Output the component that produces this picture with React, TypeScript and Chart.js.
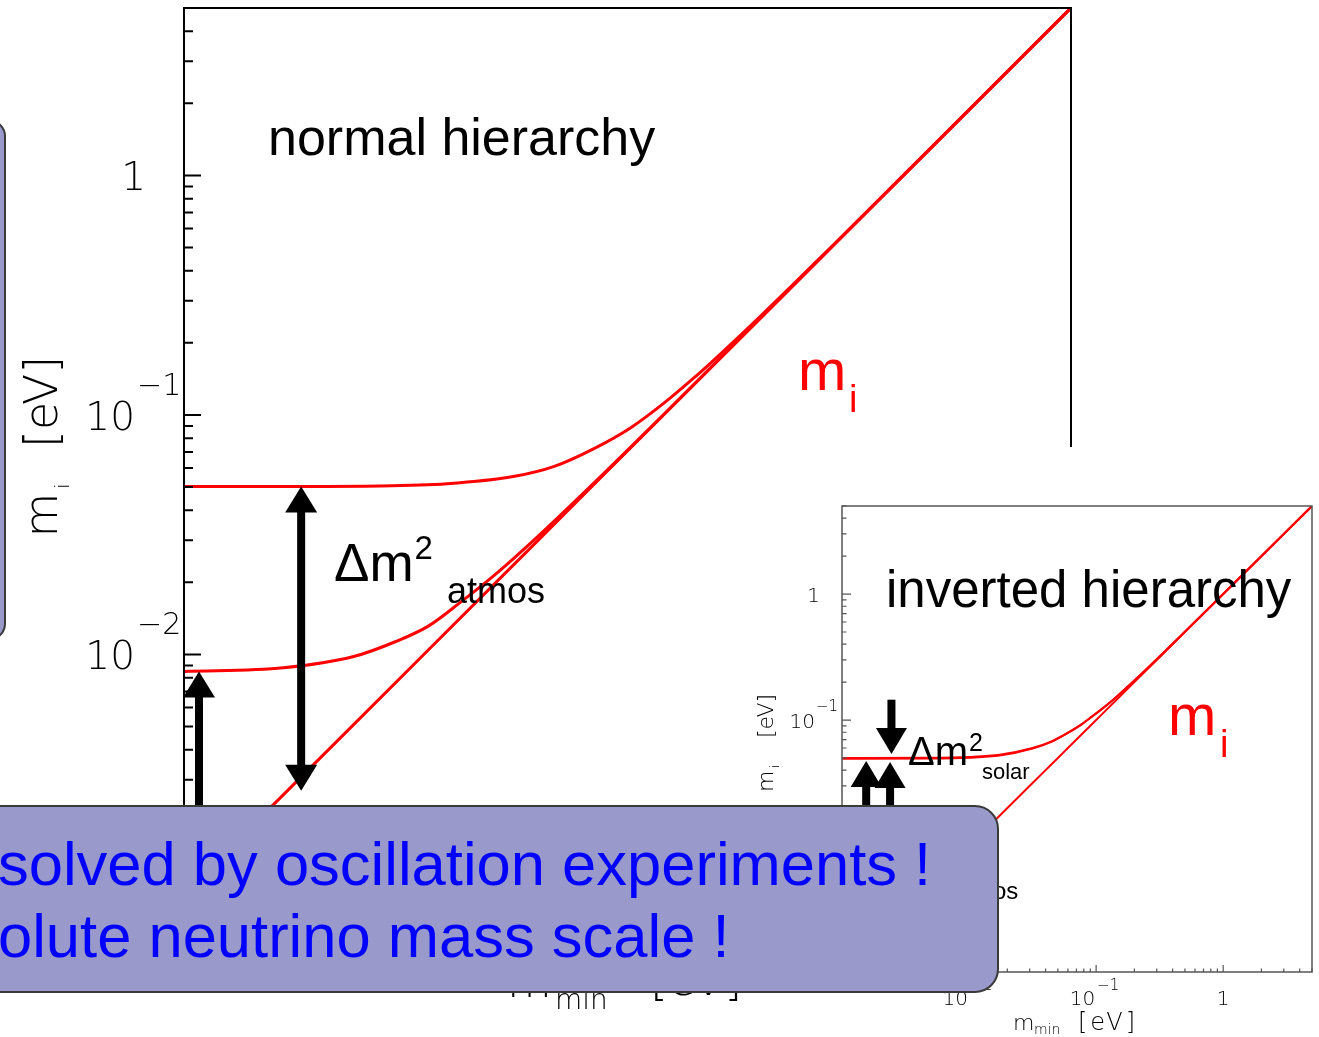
import React, { useEffect, useRef } from "react";
import { Chart, registerables } from "chart.js";

Chart.register(...registerables);

// ---------------- data: normal hierarchy (main panel) ----------------
const nhLightestMin = [0.001, 0.002, 0.005, 0.01, 0.02, 0.05, 0.1, 0.2, 0.5, 1, 2, 5];
const nhLightest = [0.001, 0.002, 0.005, 0.01, 0.02, 0.05, 0.1, 0.2, 0.5, 1, 2, 5];

const nhMiddleMin = [0.001, 0.0026, 0.0051, 0.0076, 0.0104, 0.0142, 0.02, 0.03, 0.05, 0.1, 1, 5];
const nhMiddle = [0.0085, 0.0088, 0.0098, 0.0113, 0.0131, 0.0165, 0.0217, 0.0312, 0.0508, 0.1004, 1.0, 5.0];

const nhHeaviestMin = [0.001, 0.003, 0.0066, 0.0125, 0.0236, 0.035, 0.051, 0.073, 0.1, 0.133, 0.162, 0.25, 0.5, 1, 5];
const nhHeaviest = [0.0503, 0.0503, 0.0505, 0.0516, 0.0553, 0.061, 0.0722, 0.0885, 0.1117, 0.142, 0.1695, 0.255, 0.5025, 1.001, 5.0];

// ---------------- data: inverted hierarchy (inset) ----------------
const ihMin = [0.001, 0.005, 0.01, 0.0174, 0.0316, 0.045, 0.0582, 0.075, 0.093, 0.115, 0.1435, 0.2, 0.3, 1, 5];
const ihUpperA = [0.05, 0.0502, 0.051, 0.053, 0.06, 0.068, 0.078, 0.091, 0.107, 0.126, 0.152, 0.206, 0.304, 1.001, 5.0];
const ihUpperB = [0.0493, 0.0495, 0.0503, 0.0523, 0.0594, 0.0675, 0.0775, 0.0906, 0.1066, 0.1257, 0.1518, 0.2058, 0.3039, 1.001, 5.0];
const ihLightest = [0.001, 0.005, 0.01, 0.0174, 0.0316, 0.045, 0.0582, 0.075, 0.093, 0.115, 0.1435, 0.2, 0.3, 1, 5];

// ---------------- axes ----------------
const axisMin = 0.001;
const axisMax = 5;
const tickValues = [0.001, 0.01, 0.1, 1];
const tickBase = ["10", "10", "10", "1"];
const tickExp = ["\u22123", "\u22122", "\u22121", ""];

// ---------------- annotation arrows (data coordinates) ----------------
const nhArrows = [
  { x: 0.00308, from: 0.0503, to: 0.0027, headFrom: true, headTo: true },
  { x: 0.001155, from: 0.0085, to: 0.0012, headFrom: true, headTo: true },
];
const ihArrows = [
  { x: 0.00245, from: 0.145, to: 0.0537, headFrom: false, headTo: true },
  { x: 0.00155, from: 0.0473, to: 0.0016, headFrom: true, headTo: true },
  { x: 0.00239, from: 0.0465, to: 0.0025, headFrom: true, headTo: true },
];

const SANS = "'Liberation Sans', Arial, Helvetica, sans-serif";
const LIGHT = "'DejaVu Sans', sans-serif";
const RED = "#ff0000";

function pts(xs: number[], ys: number[]) {
  return xs.map((x, i) => ({ x, y: ys[i] }));
}

function setFont(ctx: CanvasRenderingContext2D, size: number, family: string, weight = "normal") {
  ctx.font = `${weight} ${size}px ${family}`;
}

function txt(
  ctx: CanvasRenderingContext2D,
  s: string,
  x: number,
  y: number,
  size: number,
  color = "#000",
  family = SANS,
  weight = "normal",
  align: CanvasTextAlign = "left"
) {
  setFont(ctx, size, family, weight);
  ctx.fillStyle = color;
  ctx.textAlign = align;
  ctx.textBaseline = "alphabetic";
  ctx.fillText(s, x, y);
  return ctx.measureText(s).width;
}

// base text followed by superscript and/or subscript
function richText(
  ctx: CanvasRenderingContext2D,
  base: string,
  x: number,
  y: number,
  size: number,
  sup: string,
  supSize: number,
  supDy: number,
  sub: string,
  subSize: number,
  subDy: number
) {
  const w = txt(ctx, base, x, y, size);
  if (sup) txt(ctx, sup, x + w + 1, y + supDy, supSize);
  if (sub) txt(ctx, sub, x + w + 2, y + subDy, subSize);
}

function tri(ctx: CanvasRenderingContext2D, x: number, tipY: number, baseY: number, w: number) {
  ctx.beginPath();
  ctx.moveTo(x, tipY);
  ctx.lineTo(x - w / 2, baseY);
  ctx.lineTo(x + w / 2, baseY);
  ctx.closePath();
  ctx.fill();
}

function vArrow(
  ctx: CanvasRenderingContext2D,
  x: number,
  yA: number,
  yB: number,
  headA: boolean,
  headB: boolean,
  shaftW: number,
  headW: number,
  headH: number
) {
  const dir = yB > yA ? 1 : -1;
  const sA = headA ? yA + dir * (headH - 1) : yA;
  const sB = headB ? yB - dir * (headH - 1) : yB;
  ctx.fillStyle = "#000";
  ctx.fillRect(x - shaftW / 2, Math.min(sA, sB), shaftW, Math.abs(sB - sA));
  if (headA) tri(ctx, x, yA, yA + dir * headH, headW);
  if (headB) tri(ctx, x, yB, yB - dir * headH, headW);
}

type AxisStyle = {
  frame: string;
  frameW: number;
  tickW: number;
  yMajor: number;
  yMinor: number;
  xMajor: number;
  xMinor: number;
  baseSize: number;
  supSize: number;
  yBaseRight: number;
  ySupLeft: number;
  yOneRight: number;
  yBaseDy: number;
  ySupDy: number;
  xBaseDy: number;
  xSupDy: number;
  xGap: number;
};

function drawLogAxes(chart: any, st: AxisStyle) {
  const { ctx, chartArea: a, scales } = chart;
  const xs = scales.x;
  const ys = scales.y;
  ctx.save();
  ctx.strokeStyle = st.frame;
  ctx.lineWidth = st.tickW;
  ctx.beginPath();
  for (let d = -3; d <= 0; d++) {
    for (let k = 1; k <= 9; k++) {
      const v = k * Math.pow(10, d);
      if (v < axisMin * 0.999 || v > axisMax * 1.001) continue;
      const py = ys.getPixelForValue(v);
      const px = xs.getPixelForValue(v);
      const ly = k === 1 ? st.yMajor : st.yMinor;
      const lx = k === 1 ? st.xMajor : st.xMinor;
      ctx.moveTo(a.left, py);
      ctx.lineTo(a.left + ly, py);
      ctx.moveTo(px, a.bottom);
      ctx.lineTo(px, a.bottom - lx);
    }
  }
  ctx.stroke();
  ctx.lineWidth = st.frameW;
  ctx.strokeRect(a.left, a.top, a.right - a.left, a.bottom - a.top);

  tickValues.forEach((v, i) => {
    const py = ys.getPixelForValue(v);
    const px = xs.getPixelForValue(v);
    const showX = v > axisMin * 1.001; // the corner label is drawn on the y axis only
    if (tickExp[i]) {
      txt(ctx, tickBase[i], a.left - st.yBaseRight, py + st.yBaseDy, st.baseSize, "#000", LIGHT, "200", "right");
      txt(ctx, tickExp[i], a.left - st.ySupLeft, py + st.ySupDy, st.supSize, "#000", LIGHT, "200", "left");
      if (showX) {
        txt(ctx, tickBase[i], px - st.xGap, a.bottom + st.xBaseDy, st.baseSize, "#000", LIGHT, "200", "right");
        txt(ctx, tickExp[i], px + st.xGap, a.bottom + st.xSupDy, st.supSize, "#000", LIGHT, "200", "left");
      }
    } else {
      txt(ctx, tickBase[i], a.left - st.yOneRight, py + st.yBaseDy, st.baseSize, "#000", LIGHT, "200", "right");
      if (showX) txt(ctx, tickBase[i], px, a.bottom + st.xBaseDy, st.baseSize, "#000", LIGHT, "200", "center");
    }
  });
  ctx.restore();
}

const mainAxisStyle: AxisStyle = {
  frame: "#000",
  frameW: 2,
  tickW: 2,
  yMajor: 17,
  yMinor: 9,
  xMajor: 17,
  xMinor: 9,
  baseSize: 39,
  supSize: 30,
  yBaseRight: 49,
  ySupLeft: 47,
  yOneRight: 38,
  yBaseDy: 15,
  ySupDy: -20,
  xBaseDy: 66,
  xSupDy: 36,
  xGap: 2,
};

const insetAxisStyle: AxisStyle = {
  frame: "#555",
  frameW: 1.5,
  tickW: 1.2,
  yMajor: 9,
  yMinor: 4.5,
  xMajor: 7,
  xMinor: 3.5,
  baseSize: 20,
  supSize: 15,
  yBaseRight: 27,
  ySupLeft: 26,
  yOneRight: 22,
  yBaseDy: 8,
  ySupDy: -9,
  xBaseDy: 33,
  xSupDy: 18,
  xGap: 1,
};

const mainDecor = {
  id: "mainDecor",
  afterDraw(chart: any) {
    const { ctx, scales } = chart;
    drawLogAxes(chart, mainAxisStyle);
    ctx.save();
    nhArrows.forEach((ar) => {
      const x = scales.x.getPixelForValue(ar.x);
      vArrow(ctx, x, scales.y.getPixelForValue(ar.from), scales.y.getPixelForValue(ar.to), ar.headFrom, ar.headTo, 8, 32, 26);
    });
    txt(ctx, "normal hierarchy", 268, 155, 52);
    richText(ctx, "\u0394m", 334, 581, 53, "2", 33, -22, "", 0, 0);
    txt(ctx, "atmos", 447, 603, 36);
    txt(ctx, "m", 798, 390, 58, RED);
    txt(ctx, "i", 849, 412, 38, RED);
    // x title
    txt(ctx, "m", 507, 997, 46, "#000", LIGHT, "200");
    txt(ctx, "min", 555, 1009, 28, "#000", LIGHT, "200");
    txt(ctx, "[eV]", 650, 995, 46, "#000", LIGHT, "200");
    // y title (rotated)
    ctx.save();
    ctx.translate(57, 0);
    ctx.rotate(-Math.PI / 2);
    txt(ctx, "m", -537.5, 0, 46, "#000", LIGHT, "200");
    txt(ctx, "i", -489, 12, 20, "#000", LIGHT, "200");
    txt(ctx, "[eV]", -448, 0, 46, "#000", LIGHT, "200");
    ctx.restore();
    ctx.restore();
  },
};

const insetDecor = {
  id: "insetDecor",
  afterDraw(chart: any) {
    const { ctx, scales } = chart;
    drawLogAxes(chart, insetAxisStyle);
    ctx.save();
    ihArrows.forEach((ar) => {
      const x = scales.x.getPixelForValue(ar.x);
      vArrow(ctx, x, scales.y.getPixelForValue(ar.from), scales.y.getPixelForValue(ar.to), ar.headFrom, ar.headTo, 8, 31, 26);
    });
    txt(ctx, "inverted hierarchy", 141, 160, 51);
    richText(ctx, "\u0394m", 163, 318, 40, "2", 25, -14, "", 0, 0);
    txt(ctx, "solar", 237, 332, 22);
    richText(ctx, "\u0394m", 130, 432, 40, "2", 25, -14, "", 0, 0);
    txt(ctx, "atmos", 208, 452, 24);
    txt(ctx, "m", 423, 288, 58, RED);
    txt(ctx, "i", 475, 310, 38, RED);
    // x title
    txt(ctx, "m", 268, 583, 22, "#000", LIGHT, "200");
    txt(ctx, "min", 289, 587, 14, "#000", LIGHT, "200");
    ctx.save();
    try {
      (ctx as any).letterSpacing = "3px";
    } catch (e) {}
    txt(ctx, "[eV]", 333, 583, 24, "#000", LIGHT, "200");
    ctx.restore();
    // y title rotated
    ctx.save();
    ctx.translate(28, 0);
    ctx.rotate(-Math.PI / 2);
    txt(ctx, "m", -345, 0, 22, "#000", LIGHT, "200");
    txt(ctx, "i", -321, 6, 12, "#000", LIGHT, "200");
    txt(ctx, "[eV]", -291, 0, 22, "#000", LIGHT, "200");
    ctx.restore();
    ctx.restore();
  },
};

function lineDs(xs: number[], ys: number[], w: number) {
  return {
    data: pts(xs, ys),
    borderColor: RED,
    borderWidth: w,
    pointRadius: 0,
    fill: false,
    cubicInterpolationMode: "monotone" as const,
  };
}

function makeConfig(datasets: any[], padding: any, plugin: any) {
  return {
    type: "line" as const,
    data: { datasets },
    options: {
      responsive: false,
      animation: false as const,
      devicePixelRatio: 1,
      events: [] as any[],
      layout: { padding },
      plugins: { legend: { display: false }, tooltip: { enabled: false } },
      scales: {
        x: { type: "logarithmic" as const, min: axisMin, max: axisMax, display: false },
        y: { type: "logarithmic" as const, min: axisMin, max: axisMax, display: false },
      },
    },
    plugins: [plugin],
  };
}

const MAIN_W = 1080;
const MAIN_H = 1037;
const INSET_W = 574;
const INSET_H = 590;

export default function App() {
  const mainRef = useRef<HTMLCanvasElement>(null);
  const insetRef = useRef<HTMLCanvasElement>(null);

  useEffect(() => {
    const c1 = new Chart(
      mainRef.current as HTMLCanvasElement,
      makeConfig(
        [lineDs(nhLightestMin, nhLightest, 3), lineDs(nhMiddleMin, nhMiddle, 3), lineDs(nhHeaviestMin, nhHeaviest, 3)],
        { left: 184, top: 8, right: MAIN_W - 1071, bottom: MAIN_H - 894 },
        mainDecor
      ) as any
    );
    const c2 = new Chart(
      insetRef.current as HTMLCanvasElement,
      makeConfig(
        [lineDs(ihMin, ihLightest, 2), lineDs(ihMin, ihUpperA, 2), lineDs(ihMin, ihUpperB, 2)],
        { left: 97, top: 59, right: INSET_W - 567, bottom: INSET_H - 525 },
        insetDecor
      ) as any
    );
    return () => {
      c1.destroy();
      c2.destroy();
    };
  }, []);

  const boxStyle: React.CSSProperties = {
    position: "absolute",
    boxSizing: "border-box",
    background: "#9999cc",
    border: "2px solid #3a3a3a",
  };

  return (
    <div
      style={{
        position: "fixed",
        left: 0,
        top: 0,
        width: 1319,
        height: 1037,
        background: "#fff",
        overflow: "hidden",
      }}
    >
      <canvas
        ref={mainRef}
        width={MAIN_W}
        height={MAIN_H}
        style={{ position: "absolute", left: 0, top: 0, width: MAIN_W, height: MAIN_H }}
      />
      <canvas
        ref={insetRef}
        width={INSET_W}
        height={INSET_H}
        style={{ position: "absolute", left: 745, top: 447, width: INSET_W, height: INSET_H, background: "#fff" }}
      />
      <div style={{ ...boxStyle, left: -40, top: 120, width: 46, height: 520, borderRadius: 16 }} />
      <div style={{ ...boxStyle, left: -40, top: 805, width: 1039, height: 188, borderRadius: 24 }} />
      <div
        style={{
          position: "absolute",
          left: -2,
          top: 827.5,
          fontFamily: SANS,
          fontSize: 61.5,
          lineHeight: "72px",
          color: "#0000ff",
          whiteSpace: "pre",
        }}
      >
        {"solved by oscillation experiments !\nolute neutrino mass scale !"}
      </div>
    </div>
  );
}
